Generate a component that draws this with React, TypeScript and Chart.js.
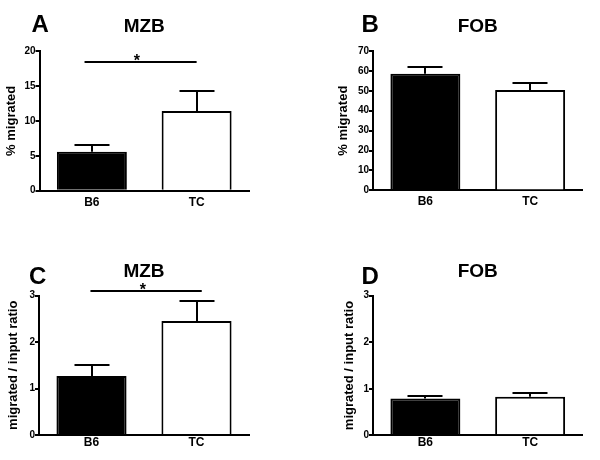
import React, { useEffect, useRef } from "react";
import { Chart, registerables } from "chart.js";

Chart.register(...registerables);

const FONT = "'Liberation Sans', Arial, Helvetica, sans-serif";

// ---------------- data ----------------
const categories = ["B6", "TC"];
const barFill = ["#000000", "#ffffff"];

const mzbMigratedMean = [5.58, 11.4];
const mzbMigratedSem = [0.96, 2.9];
const fobMigratedMean = [58.6, 50.4];
const fobMigratedSem = [3.5, 3.7];
const mzbRatioMean = [1.27, 2.45];
const mzbRatioSem = [0.23, 0.44];
const fobRatioMean = [0.79, 0.83];
const fobRatioSem = [0.06, 0.07];

const panelLetters = ["A", "B", "C", "D"];
const panelTitles = ["MZB", "FOB", "MZB", "FOB"];
const yTitles = ["% migrated", "% migrated", "migrated / input ratio", "migrated / input ratio"];
const yMaxValues = [20, 70, 3, 3];
const yStepValues = [5, 10, 1, 1];

// significance brackets: from/to in category units, y in data units
const sigA = { from: -0.07, to: 1.0, y: 18.4, starAt: 0.43, label: "*" };
const sigC = { from: -0.01, to: 1.05, y: 3.1, starAt: 0.49, label: "*" };

// ---------------- layout (canvas geometry) ----------------
type PanelCfg = {
  left: number;
  top: number;
  means: number[];
  sems: number[];
  letter: string;
  title: string;
  yTitle: string;
  yMax: number;
  yStep: number;
  sig: null | { from: number; to: number; y: number; starAt: number; label: string };
  pad: { left: number; top: number; right: number; bottom: number };
  yWidth: number;
  xHeight: number;
  yTitlePad: number;
  xTickPad: number;
  letterPos: { x: number; y: number };
};

const panels: PanelCfg[] = [
  {
    left: 0, top: 0, means: mzbMigratedMean, sems: mzbMigratedSem,
    letter: panelLetters[0], title: panelTitles[0], yTitle: yTitles[0],
    yMax: yMaxValues[0], yStep: yStepValues[0], sig: sigA,
    pad: { left: 0, top: 51, right: 51, bottom: 0 }, yWidth: 39.5, xHeight: 39.3,
    yTitlePad: 3.2, xTickPad: 4.5, letterPos: { x: 31.5, y: 32 },
  },
  {
    left: 300, top: 0, means: fobMigratedMean, sems: fobMigratedSem,
    letter: panelLetters[1], title: panelTitles[1], yTitle: yTitles[1],
    yMax: yMaxValues[1], yStep: yStepValues[1], sig: null,
    pad: { left: 33.5, top: 51, right: 17.5, bottom: 0 }, yWidth: 39.5, xHeight: 39.6,
    yTitlePad: 2.2, xTickPad: 4.5, letterPos: { x: 61.5, y: 32 },
  },
  {
    left: 0, top: 230, means: mzbRatioMean, sems: mzbRatioSem,
    letter: panelLetters[2], title: panelTitles[2], yTitle: yTitles[2],
    yMax: yMaxValues[2], yStep: yStepValues[2], sig: sigC,
    pad: { left: 0, top: 65.5, right: 51, bottom: 0 }, yWidth: 39, xHeight: 25,
    yTitlePad: 5.2, xTickPad: 0, letterPos: { x: 29, y: 54 },
  },
  {
    left: 300, top: 230, means: fobRatioMean, sems: fobRatioSem,
    letter: panelLetters[3], title: panelTitles[3], yTitle: yTitles[3],
    yMax: yMaxValues[3], yStep: yStepValues[3], sig: null,
    pad: { left: 33.5, top: 65.7, right: 17.5, bottom: 0 }, yWidth: 39.5, xHeight: 24.7,
    yTitlePad: 8, xTickPad: 0, letterPos: { x: 61.5, y: 54 },
  },
];

function makeAnnotations(cfg: PanelCfg) {
  return {
    id: "annotations",
    afterDatasetsDraw(chart: any) {
      const ctx: CanvasRenderingContext2D = chart.ctx;
      const xs = chart.scales.x;
      const ys = chart.scales.y;
      const data = chart.data.datasets[0].data as number[];
      ctx.save();
      ctx.strokeStyle = "#000";
      ctx.lineWidth = 2;
      const capHalf = 17.5;
      data.forEach((v, i) => {
        const x = Math.round(xs.getPixelForValue(i));
        const y0 = ys.getPixelForValue(v);
        const y1 = Math.round(ys.getPixelForValue(v + cfg.sems[i]));
        ctx.beginPath();
        ctx.moveTo(x, y0);
        ctx.lineTo(x, y1);
        ctx.moveTo(x - capHalf, y1);
        ctx.lineTo(x + capHalf, y1);
        ctx.stroke();
      });
      ctx.restore();
    },
    afterDraw(chart: any) {
      const ctx: CanvasRenderingContext2D = chart.ctx;
      const area = chart.chartArea;
      const xs = chart.scales.x;
      const ys = chart.scales.y;
      ctx.save();
      ctx.fillStyle = "#000";
      ctx.strokeStyle = "#000";
      // panel title
      ctx.font = `bold 19px ${FONT}`;
      ctx.textAlign = "center";
      ctx.textBaseline = "middle";
      ctx.fillText(cfg.title, (area.left + area.right) / 2, area.top - 24);
      // panel letter
      ctx.font = `bold 24px ${FONT}`;
      ctx.textAlign = "left";
      ctx.textBaseline = "alphabetic";
      ctx.fillText(cfg.letter, cfg.letterPos.x, cfg.letterPos.y);
      // significance bracket
      if (cfg.sig) {
        const s = cfg.sig;
        const y = Math.round(ys.getPixelForValue(s.y));
        ctx.lineWidth = 2;
        ctx.beginPath();
        ctx.moveTo(xs.getPixelForValue(s.from), y);
        ctx.lineTo(xs.getPixelForValue(s.to), y);
        ctx.stroke();
        ctx.font = `bold 16px ${FONT}`;
        ctx.textAlign = "center";
        ctx.textBaseline = "alphabetic";
        ctx.fillText(s.label, xs.getPixelForValue(s.starAt), y + 3.5);
      }
      ctx.restore();
    },
  };
}

function Panel({ cfg }: { cfg: PanelCfg }) {
  const ref = useRef<HTMLCanvasElement>(null);
  useEffect(() => {
    const chart = new Chart(ref.current as HTMLCanvasElement, {
      type: "bar",
      data: {
        labels: categories,
        datasets: [
          {
            data: cfg.means,
            backgroundColor: barFill,
            borderColor: "#000",
            borderWidth: 2,
            barPercentage: 0.668,
            categoryPercentage: 1,
          },
        ],
      },
      options: {
        responsive: false,
        animation: false,
        layout: { padding: cfg.pad },
        plugins: {
          legend: { display: false },
          title: { display: false },
          tooltip: { enabled: false },
        },
        scales: {
          x: {
            offset: true,
            grid: { display: false, drawTicks: false },
            border: { display: true, color: "#000", width: 2 },
            ticks: {
              color: "#000",
              padding: cfg.xTickPad,
              font: { family: FONT, size: 12, weight: "bold" },
            },
            afterFit: (scale: any) => {
              scale.height = cfg.xHeight;
            },
          },
          y: {
            min: 0,
            max: cfg.yMax,
            grid: {
              drawOnChartArea: false,
              drawTicks: true,
              tickLength: 4,
              color: "#000",
              lineWidth: 2,
            },
            border: { display: true, color: "#000", width: 2 },
            ticks: {
              stepSize: cfg.yStep,
              color: "#000",
              padding: 0,
              font: { family: FONT, size: 10, weight: "bold" },
            },
            title: {
              display: true,
              text: cfg.yTitle,
              color: "#000",
              padding: { top: cfg.yTitlePad, bottom: 0 },
              font: { family: FONT, size: 13, weight: "bold", lineHeight: 1.2 },
            },
            afterFit: (scale: any) => {
              scale.width = cfg.yWidth;
            },
          },
        },
      } as any,
      plugins: [makeAnnotations(cfg)],
    });
    return () => chart.destroy();
  }, [cfg]);
  return (
    <canvas
      ref={ref}
      width={300}
      height={230}
      style={{ position: "absolute", left: cfg.left, top: cfg.top, width: 300, height: 230 }}
    />
  );
}

export default function App() {
  return (
    <div
      style={{
        position: "fixed",
        left: 0,
        top: 0,
        width: 600,
        height: 460,
        background: "#ffffff",
        overflow: "hidden",
      }}
    >
      {panels.map((p, i) => (
        <Panel key={i} cfg={p} />
      ))}
    </div>
  );
}
